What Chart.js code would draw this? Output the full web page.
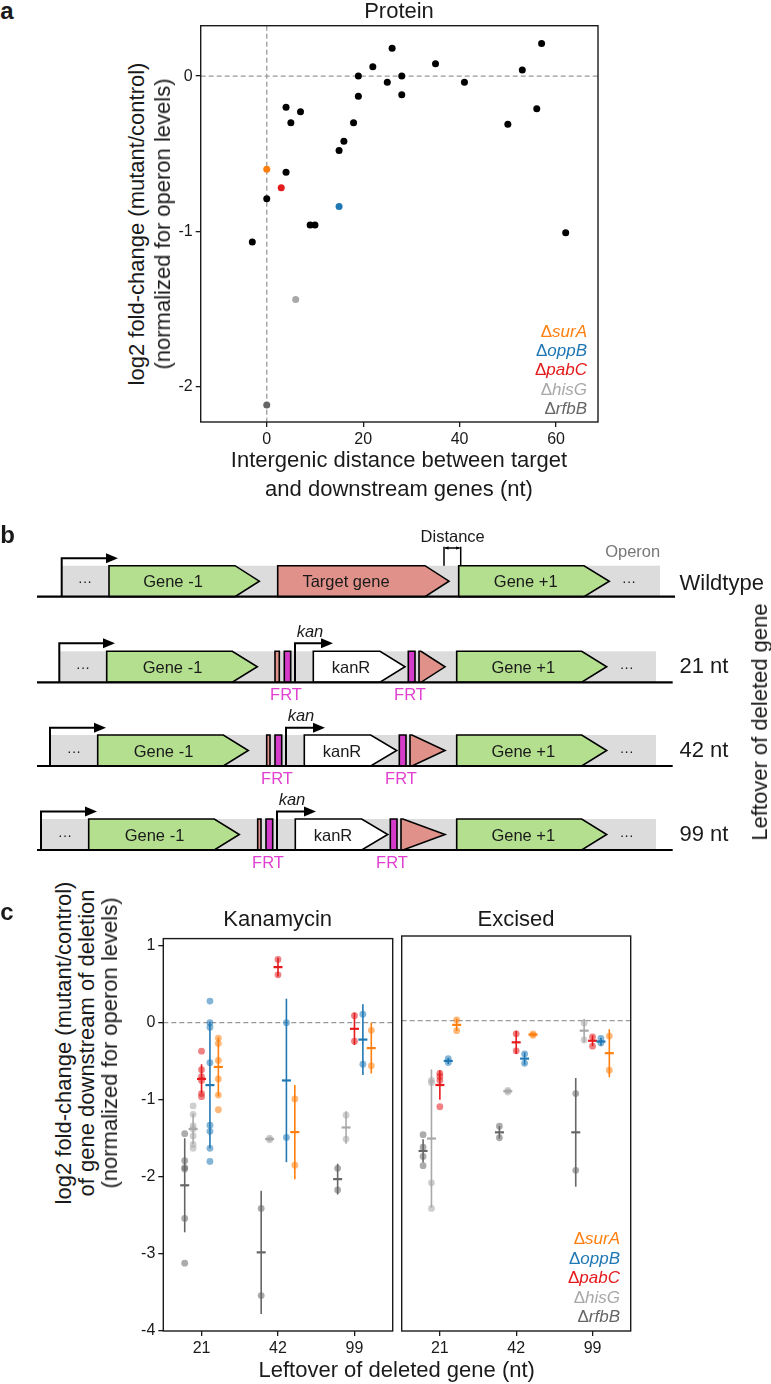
<!DOCTYPE html>
<html>
<head>
<meta charset="utf-8">
<script src="https://cdn.jsdelivr.net/npm/chart.js@4.4.1/dist/chart.umd.min.js"></script>
<style>
  html, body { margin: 0; padding: 0; background: #fff; }
  body { position: relative; width: 771px; height: 1384px; overflow: hidden;
         font-family: 'Liberation Sans', Arial, sans-serif; color: #1a1a1a; }
  canvas { position: absolute; }
  .lbl { position: absolute; white-space: nowrap; line-height: 1; transform: translate(-50%, -50%); }
  .lbl.right { transform: translate(-100%, -50%); }
  .lbl.rot { transform: translate(-50%, -50%) rotate(-90deg); }
</style>
</head>
<body>
<script>
// ---- panel a: protein fold-change vs intergenic distance ----
const protDist = [-3, 0, 4, 4, 5, 7, 9, 10, 15, 16, 18, 19, 19, 22, 25, 26, 28, 28, 35, 41, 50, 53, 56, 57, 62];
const protFC   = [-1.07, -0.79, -0.20, -0.62, -0.30, -0.23, -0.96, -0.96, -0.48, -0.42, -0.30, -0.13, 0.00,
                  0.06, -0.04, 0.18, 0.00, -0.12, 0.08, -0.04, -0.31, 0.04, -0.21, 0.21, -1.01];
const markedGenes = ['surA', 'oppB', 'pabC', 'hisG', 'rfbB'];
const markedDist  = [0, 15, 3, 6, 0];
const markedFC    = [-0.60, -0.84, -0.72, -1.44, -2.12];
const distTicks = [0, 20, 40, 60];
const fcTicksA  = [0, -1, -2];

// ---- panel c: downstream gene fold-change by leftover length ----
const leftover = ['21', '42', '99'];
const strains  = ['rfbB', 'hisG', 'pabC', 'oppB', 'surA'];   // left to right inside a group
const fcTicksC = [1, 0, -1, -2, -3, -4];

// Kanamycin: replicate values per leftover (21, 42, 99)
const kanRfbB = [[-1.44, -1.79, -1.88, -1.90, -2.54, -3.12], [-2.41, -3.54], [-1.89, -2.17]];
const kanHisG = [[-1.08, -1.19, -1.34, -1.38, -1.47, -1.58, -1.63], [-1.50, -1.52], [-1.20, -1.51]];
const kanPabC = [[-0.37, -0.61, -0.70, -0.75, -0.92, -0.96], [0.82, 0.62], [0.09, -0.24]];
const kanOppB = [[0.28, 0.00, -0.06, -0.52, -1.33, -1.41, -1.63, -1.80], [0.00, -1.49], [0.11, -0.54]];
const kanSurA = [[-0.20, -0.27, -0.49, -0.73, -0.94, -1.13], [-0.99, -1.85], [-0.10, -0.56]];
const kanMean = [[-2.11, -2.98, -2.03], [-1.38, -1.51, -1.36], [-0.73, 0.72, -0.08], [-0.81, -0.75, -0.22], [-0.575, -1.42, -0.33]];
const kanSD   = [[0.61, 0.80, 0.20], [0.20, 0.02, 0.21], [0.19, 0.12, 0.21], [0.82, 1.06, 0.46], [0.38, 0.61, 0.33]];

// Excised
const excRfbB = [[-1.47, -1.63, -1.75, -1.87], [-1.36, -1.51], [-0.94, -1.93]];
const excHisG = [[-0.77, -0.80, -2.09, -2.42], [-0.90, -0.92], [-0.03, -0.25]];
const excPabC = [[-0.68, -0.72, -0.77, -1.11], [-0.17, -0.39], [-0.21, -0.33]];
const excOppB = [[-0.49, -0.54], [-0.43, -0.55], [-0.23, -0.29]];
const excSurA = [[0.01, -0.13], [-0.17, -0.19], [-0.20, -0.64]];
const excMean = [[-1.68, -1.44, -1.44], [-1.52, -0.91, -0.13], [-0.83, -0.28, -0.26], [-0.52, -0.49, -0.27], [-0.055, -0.18, -0.42]];
const excSD   = [[0.15, 0.08, 0.70], [0.89, 0.02, 0.15], [0.19, 0.15, 0.07], [0.04, 0.08, 0.05], [0.08, 0.01, 0.31]];

// ---- styling ----
const FONT = "'Liberation Sans', Arial, sans-serif";
const INK = '#1a1a1a';
const geneColors = { surA: '#ff7f0e', oppB: '#1f77b4', pabC: '#e41a1c', hisG: '#a8a8a8', rfbB: '#666666' };
const strainOffset = [-0.22, -0.11, 0, 0.11, 0.22];
const GREEN = '#b4df8f', SALMON = '#e0918a', MAGENTA = '#d43bc8', GREY_BOX = '#dcdcdc';

Chart.defaults.font.family = FONT;

function makeCanvas(left, top, w, h) {
  const c = document.createElement('canvas');
  c.width = w; c.height = h;
  c.style.left = left + 'px'; c.style.top = top + 'px';
  c.style.width = w + 'px'; c.style.height = h + 'px';
  document.body.appendChild(c);
  return c;
}

function label(html, x, y, size, extra = {}) {
  const d = document.createElement('div');
  d.className = 'lbl' + (extra.cls ? ' ' + extra.cls : '');
  d.innerHTML = html;
  d.style.left = x + 'px';
  d.style.top = y + 'px';
  d.style.fontSize = size + 'px';
  if (extra.color) d.style.color = extra.color;
  if (extra.bold) d.style.fontWeight = 'bold';
  if (extra.italic) d.style.fontStyle = 'italic';
  document.body.appendChild(d);
}

function axis({ min, max, ticks, fit, horizontal, display = true, text }) {
  return {
    type: 'linear', min, max, display,
    afterBuildTicks: s => { s.ticks = ticks.map(v => ({ value: v })); },
    afterFit: s => { if (horizontal) s.height = fit; else s.width = fit; },
    grid: { drawOnChartArea: false, drawTicks: true, tickLength: 5, color: INK, lineWidth: 1.3 },
    border: { display: false },
    ticks: {
      color: INK, font: { family: FONT, size: 16 }, padding: 3, autoSkip: false, maxRotation: 0,
      callback: text || (v => String(v))
    }
  };
}

// box round the plot area plus dashed reference lines
function framePlugin(vLines, hLines) {
  return {
    id: 'frame',
    beforeDatasetsDraw(chart) {
      const { ctx, chartArea: a, scales: { x, y } } = chart;
      ctx.save();
      ctx.strokeStyle = '#9a9a9a';
      ctx.lineWidth = 1.3;
      ctx.setLineDash([5, 3]);
      vLines.forEach(v => {
        const px = x.getPixelForValue(v);
        ctx.beginPath(); ctx.moveTo(px, a.top); ctx.lineTo(px, a.bottom); ctx.stroke();
      });
      hLines.forEach(v => {
        const py = y.getPixelForValue(v);
        ctx.beginPath(); ctx.moveTo(a.left, py); ctx.lineTo(a.right, py); ctx.stroke();
      });
      ctx.restore();
    },
    afterDraw(chart) {
      const { ctx, chartArea: a } = chart;
      ctx.save();
      ctx.strokeStyle = INK;
      ctx.lineWidth = 1.4;
      ctx.strokeRect(a.left, a.top, a.right - a.left, a.bottom - a.top);
      ctx.restore();
    }
  };
}

// mean +- SD bars over the replicate points
function errorBarPlugin(means, sds) {
  return {
    id: 'errbars',
    afterDatasetsDraw(chart) {
      const { ctx, scales: { x, y } } = chart;
      ctx.save();
      means.forEach((row, si) => row.forEach((m, ci) => {
        const px = x.getPixelForValue(ci + 1 + strainOffset[si]);
        const sd = sds[si][ci];
        ctx.strokeStyle = geneColors[strains[si]];
        ctx.lineWidth = 1.6;
        ctx.beginPath();
        ctx.moveTo(px, y.getPixelForValue(m + sd));
        ctx.lineTo(px, y.getPixelForValue(m - sd));
        ctx.stroke();
        ctx.lineWidth = 2.2;
        ctx.beginPath();
        ctx.moveTo(px - 4.5, y.getPixelForValue(m));
        ctx.lineTo(px + 4.5, y.getPixelForValue(m));
        ctx.stroke();
      }));
      ctx.restore();
    }
  };
}

function hexA(hex, a) {
  const n = parseInt(hex.slice(1), 16);
  return `rgba(${n >> 16},${(n >> 8) & 255},${n & 255},${a})`;
}

const baseOptions = {
  responsive: false, animation: false, events: [], devicePixelRatio: 1,
  plugins: { legend: { display: false }, tooltip: { enabled: false } }
};

// ---------- panel a ----------
new Chart(makeCanvas(150, 0, 460, 450), {
  type: 'scatter',
  data: {
    datasets: [
      { data: protDist.map((d, i) => ({ x: d, y: protFC[i] })), backgroundColor: '#000', pointRadius: 3.5, borderWidth: 0 },
      { data: markedDist.map((d, i) => ({ x: d, y: markedFC[i] })),
        backgroundColor: markedGenes.map(g => geneColors[g]), pointRadius: 3.5, borderWidth: 0 }
    ]
  },
  options: {
    ...baseOptions,
    layout: { padding: { top: 25.7, right: 12, left: 0, bottom: 0 } },
    scales: {
      x: axis({ min: -13.7, max: 68.7, ticks: distTicks, fit: 28, horizontal: true }),
      y: axis({ min: -2.23, max: 0.325, ticks: fcTicksA, fit: 50.7 })
    }
  },
  plugins: [framePlugin([0], [0])]
});

// ---------- panel c ----------
function conditionDatasets(pointSets) {
  return pointSets.map((sets, si) => ({
    data: sets.flatMap((vals, ci) => vals.map(v => ({ x: ci + 1 + strainOffset[si], y: v }))),
    backgroundColor: hexA(geneColors[strains[si]], 0.55),
    pointRadius: 3.4, borderWidth: 0
  }));
}
const xLeftover = (v, i) => leftover[i];

new Chart(makeCanvas(120, 926, 280, 435), {
  type: 'scatter',
  data: { datasets: conditionDatasets([kanRfbB, kanHisG, kanPabC, kanOppB, kanSurA]) },
  options: {
    ...baseOptions,
    layout: { padding: { top: 10, right: 7.3, left: 0, bottom: 0 } },
    scales: {
      x: axis({ min: 0.5, max: 3.5, ticks: [1, 2, 3], fit: 30, horizontal: true, text: xLeftover }),
      y: axis({ min: -4, max: 1.09, ticks: fcTicksC, fit: 43.3 })
    }
  },
  plugins: [framePlugin([], [0]), errorBarPlugin(kanMean, kanSD)]
});

new Chart(makeCanvas(396, 926, 240, 435), {
  type: 'scatter',
  data: { datasets: conditionDatasets([excRfbB, excHisG, excPabC, excOppB, excSurA]) },
  options: {
    ...baseOptions,
    layout: { padding: { top: 10, right: 5.3, left: 5.7, bottom: 0 } },
    scales: {
      x: axis({ min: 0.5, max: 3.5, ticks: [1, 2, 3], fit: 30, horizontal: true, text: xLeftover }),
      y: axis({ min: -4, max: 1.09, ticks: fcTicksC, fit: 0, display: false })
    }
  },
  plugins: [framePlugin([], [0]), errorBarPlugin(excMean, excSD)]
});

// ---------- panel b: operon schematic (page-pixel coordinates) ----------
const BOX_H = 31;
const diagramRows = [
  { base: 596.7, boxL: 61.7, boxR: 660, lineL: 37, lineR: 675, prom: [61.7, 558.3, 118],
    parts: [[109, 235, 259.3, GREEN], [277.7, 425, 449, SALMON], [458.7, 584, 609.3, GREEN]] },
  { base: 682.3, boxL: 59.3, boxR: 656, lineL: 37, lineR: 672.7, prom: [59.3, 643.3, 115], kan: [295, 333],
    parts: [[106.7, 232.3, 257.3, GREEN], [275, 279.3, 279.3, SALMON], [284.3, 290.7, 290.7, MAGENTA],
            [313.3, 380, 405, '#fff'], [408.3, 415, 415, MAGENTA], [419, 421, 445, SALMON], [456.7, 581.7, 606.7, GREEN]] },
  { base: 766, boxL: 50, boxR: 656, lineL: 37, lineR: 672.7, prom: [50, 727.7, 106], kan: [286, 325],
    parts: [[97.7, 223.3, 248.3, GREEN], [266.7, 270, 270, SALMON], [275, 281.7, 281.7, MAGENTA],
            [304.3, 370.7, 396.7, '#fff'], [399.3, 406, 406, MAGENTA], [410, 412, 445, SALMON], [456.7, 581.7, 606.7, GREEN]] },
  { base: 850, boxL: 41, boxR: 656, lineL: 37, lineR: 672.7, prom: [41, 811.5, 97], kan: [277, 316],
    parts: [[88.7, 214.3, 239.3, GREEN], [257.7, 261, 261, SALMON], [266, 272.7, 272.7, MAGENTA],
            [295.3, 361.7, 387.7, '#fff'], [390.3, 397, 397, MAGENTA], [401, 403, 445, SALMON], [456.7, 581.7, 606.7, GREEN]] }
];

const diagramPlugin = {
  id: 'diagram',
  afterDraw(chart) {
    const { ctx, scales: { x, y } } = chart;
    const X = v => x.getPixelForValue(v), Y = v => y.getPixelForValue(v);
    ctx.save();
    ctx.strokeStyle = '#000';
    ctx.fillStyle = '#000';

    function promoter(px, base, top, end) {
      ctx.lineWidth = 2;
      ctx.beginPath();
      ctx.moveTo(X(px), Y(base)); ctx.lineTo(X(px), Y(top)); ctx.lineTo(X(end - 10), Y(top));
      ctx.stroke();
      ctx.fillStyle = '#000';
      ctx.beginPath();
      ctx.moveTo(X(end), Y(top)); ctx.lineTo(X(end - 12), Y(top - 5)); ctx.lineTo(X(end - 12), Y(top + 5));
      ctx.closePath(); ctx.fill();
    }

    diagramRows.forEach(r => {
      const top = r.base - BOX_H, mid = r.base - BOX_H / 2;
      ctx.fillStyle = GREY_BOX;
      ctx.fillRect(X(r.boxL), Y(top), X(r.boxR) - X(r.boxL), Y(r.base) - Y(top));
      ctx.lineWidth = 1.6;
      ctx.lineJoin = 'miter';
      r.parts.forEach(([l, s, t, fill]) => {
        ctx.beginPath();
        ctx.moveTo(X(l), Y(top)); ctx.lineTo(X(s), Y(top)); ctx.lineTo(X(t), Y(mid));
        ctx.lineTo(X(s), Y(r.base)); ctx.lineTo(X(l), Y(r.base)); ctx.closePath();
        ctx.fillStyle = fill; ctx.fill(); ctx.stroke();
      });
      ctx.lineWidth = 2.2;
      ctx.beginPath(); ctx.moveTo(X(r.lineL), Y(r.base)); ctx.lineTo(X(r.lineR), Y(r.base)); ctx.stroke();
      promoter(r.prom[0], r.base, r.prom[1], r.prom[2]);
      if (r.kan) promoter(r.kan[0], r.base, r.prom[1], r.kan[1]);
    });

    // "Distance" bracket on the wildtype row
    ctx.lineWidth = 1.5;
    ctx.beginPath();
    ctx.moveTo(X(444), Y(546.7)); ctx.lineTo(X(444), Y(565.7));
    ctx.moveTo(X(460.7), Y(546.7)); ctx.lineTo(X(460.7), Y(565.7));
    ctx.moveTo(X(445), Y(548)); ctx.lineTo(X(459.7), Y(548));
    ctx.stroke();
    ctx.beginPath();
    ctx.moveTo(X(445), Y(548)); ctx.lineTo(X(448.5), Y(546.3)); ctx.lineTo(X(448.5), Y(549.7)); ctx.closePath();
    ctx.moveTo(X(459.7), Y(548)); ctx.lineTo(X(456.2), Y(546.3)); ctx.lineTo(X(456.2), Y(549.7)); ctx.closePath();
    ctx.fillStyle = '#000'; ctx.fill();
    ctx.restore();
  }
};

new Chart(makeCanvas(0, 460, 771, 410), {
  type: 'scatter',
  data: { datasets: [{ data: [] }] },
  options: {
    ...baseOptions,
    layout: { padding: 0 },
    scales: {
      x: { type: 'linear', min: 0, max: 771, display: false },
      y: { type: 'linear', min: 460, max: 870, reverse: true, display: false }
    }
  },
  plugins: [diagramPlugin]
});

// ---------- text ----------
label('a', 7, 11, 24, { bold: true });
label('b', 7.5, 535, 24, { bold: true });
label('c', 7, 912, 24, { bold: true });

label('Protein', 399, 10.5, 22);
label('log2 fold-change (mutant/control)', 137, 224, 22, { cls: 'rot' });
label('(normalized for operon levels)', 163, 224, 22, { cls: 'rot' });
label('Intergenic distance between target', 399, 460, 22);
label('and downstream genes (nt)', 399, 489, 22);

const legendRowsA = [331, 350, 369, 389, 408];
markedGenes.forEach((g, i) => label('\u0394<i>' + g + '</i>', 587, legendRowsA[i], 17, { cls: 'right', color: geneColors[g] }));

const legendRowsC = [1238, 1258, 1277, 1297, 1316];
markedGenes.forEach((g, i) => label('\u0394<i>' + g + '</i>', 620, legendRowsC[i], 17, { cls: 'right', color: geneColors[g] }));

label('Kanamycin', 277.7, 919, 22);
label('Excised', 516, 919, 22);
label('log2 fold-change (mutant/control)', 64, 1043, 22, { cls: 'rot' });
label('of gene downstream of deletion', 87, 1043, 22, { cls: 'rot' });
label('(normalized for operon levels)', 110, 1043, 22, { cls: 'rot' });
label('Leftover of deleted gene (nt)', 396.7, 1370, 22);

// schematic labels
const rowMid = r => r.base - BOX_H / 2;
const [wt, r21, r42, r99] = diagramRows;
label('\u00b7\u00b7\u00b7', 85, rowMid(wt), 14);
label('Gene -1', 173, rowMid(wt), 16.5);
label('Target gene', 346, rowMid(wt), 16.5);
label('Gene +1', 525.7, rowMid(wt), 16.5);
label('\u00b7\u00b7\u00b7', 629, rowMid(wt), 14);
label('Distance', 452.7, 535.7, 16.5);
label('Operon', 632.7, 551, 16.5, { color: '#777' });
label('Wildtype', 721.7, 582.7, 22);

[[r21, 0, '21 nt'], [r42, -9, '42 nt'], [r99, -18, '99 nt']].forEach(([r, dx, txt]) => {
  const m = rowMid(r);
  label('\u00b7\u00b7\u00b7', 83 + dx, m, 14);
  label('Gene -1', 172.5 + dx, m, 16.5);
  label('kanR', 351 + dx, m, 16.5);
  label('Gene +1', 523.3, m, 16.5);
  label('\u00b7\u00b7\u00b7', 626.7, m, 14);
  label('kan', 310 + dx, r.base - 51, 16.5, { italic: true });
  label('FRT', 286 + dx, r.base + 12, 16.5, { color: '#e040d0' });
  label('FRT', 410 + dx, r.base + 12, 16.5, { color: '#e040d0' });
  label(txt, 704, r.base - 16, 22);
});
label('Leftover of deleted gene', 760, 722, 22, { cls: 'rot' });
</script>
</body>
</html>
